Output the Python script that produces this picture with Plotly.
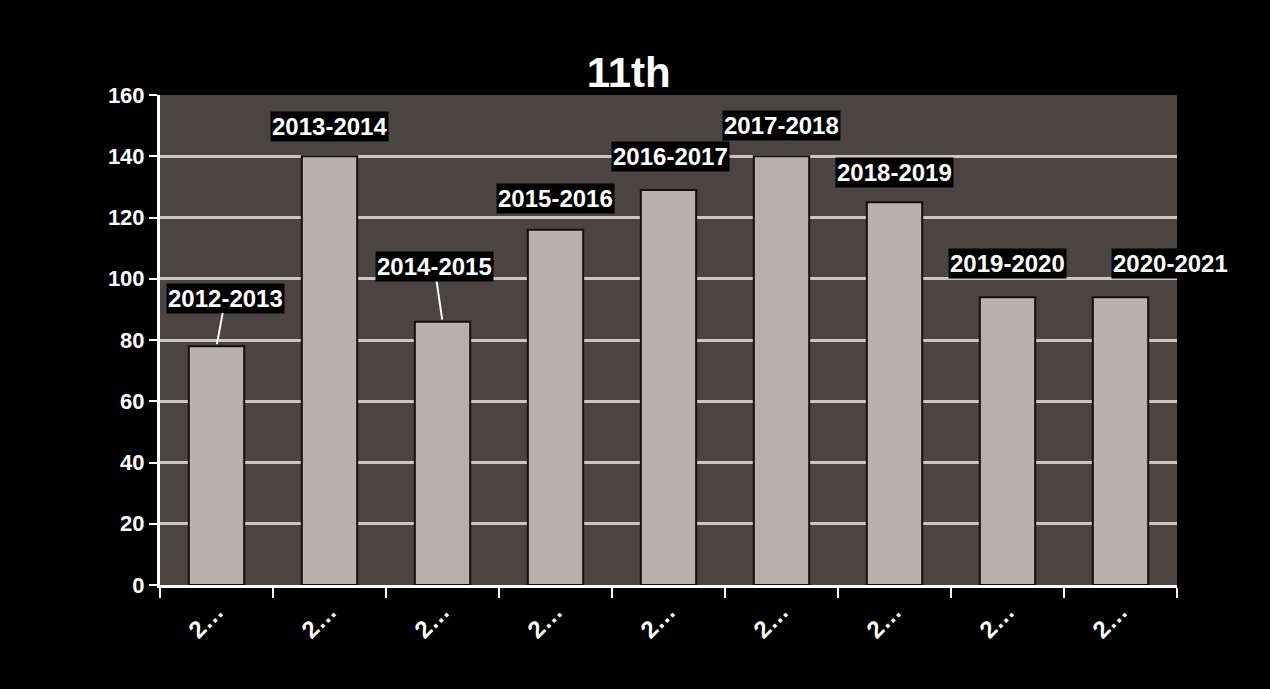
import plotly.graph_objects as go

categories = ["2012-2013", "2013-2014", "2014-2015", "2015-2016", "2016-2017",
              "2017-2018", "2018-2019", "2019-2020", "2020-2021"]
values = [78, 140, 86, 116, 129, 140, 125, 94, 94]
tick_labels = ["2…"] * len(categories)
title_text = "11th"

FONT = "Liberation Sans, Arial, sans-serif"

fig = go.Figure()
fig.add_trace(go.Bar(
    x=categories, y=values,
    marker=dict(color="#b7b2ae", line=dict(color="#111111", width=2)),
    width=0.49,
    hoverinfo="x+y",
))

label_font = dict(family=FONT, size=24, color="white")
# (xshift, yshift above bar top in px, leader line?)
label_offsets = {
    "2012-2013": (9, 48, True),
    "2013-2014": (0, 30, False),
    "2014-2015": (-8, 55, True),
    "2015-2016": (0, 31, False),
    "2016-2017": (2, 33, False),
    "2017-2018": (0, 31, False),
    "2018-2019": (0, 30, False),
    "2019-2020": (0, 34, False),
    "2020-2021": (50, 34, False),
}
for cat, val in zip(categories, values):
    dx, dy, lead = label_offsets[cat]
    if lead:
        fig.add_annotation(x=cat, y=val, text="<b>" + cat + "</b>", showarrow=True,
                           arrowhead=0, arrowwidth=2, arrowcolor="white",
                           ax=dx, ay=-dy, standoff=2, font=label_font,
                           bgcolor="black")
    else:
        fig.add_annotation(x=cat, y=val, text="<b>" + cat + "</b>", showarrow=False,
                           yshift=dy, xshift=dx, font=label_font, bgcolor="black")

fig.update_layout(
    width=1270, height=689,
    paper_bgcolor="black", plot_bgcolor="#4a4442",
    margin=dict(l=160, r=93, t=95, b=104),
    title=dict(text="<b>" + title_text + "</b>", x=0.495, xanchor="center",
               y=0.895, yanchor="middle",
               font=dict(family=FONT, size=42, color="white")),
    showlegend=False,
    bargap=0.51,
)
fig.update_yaxes(range=[0, 160], dtick=20, tick0=0,
                 showgrid=True, gridcolor="#c9c6c4", gridwidth=3,
                 showline=True, linecolor="white", linewidth=3,
                 ticks="outside", tickcolor="white", ticklen=8, tickwidth=2,
                 tickfont=dict(family=FONT, size=22, color="white"),
                 tickprefix="<b>", ticksuffix="</b>", zeroline=False)
fig.update_xaxes(range=[-0.5, len(categories) - 0.5],
                 tickmode="array", tickvals=categories,
                 ticktext=["<b>" + t + "</b>" for t in tick_labels],
                 tickangle=-45, tickson="boundaries",
                 showline=True, linecolor="white", linewidth=3,
                 ticks="outside", tickcolor="white", ticklen=10, tickwidth=2,
                 tickfont=dict(family=FONT, size=24, color="white"),
                 showgrid=False)

fig.write_html("out.html", config={"displayModeBar": False},
               post_script="document.body.style.margin='0';document.body.style.background='black';")
